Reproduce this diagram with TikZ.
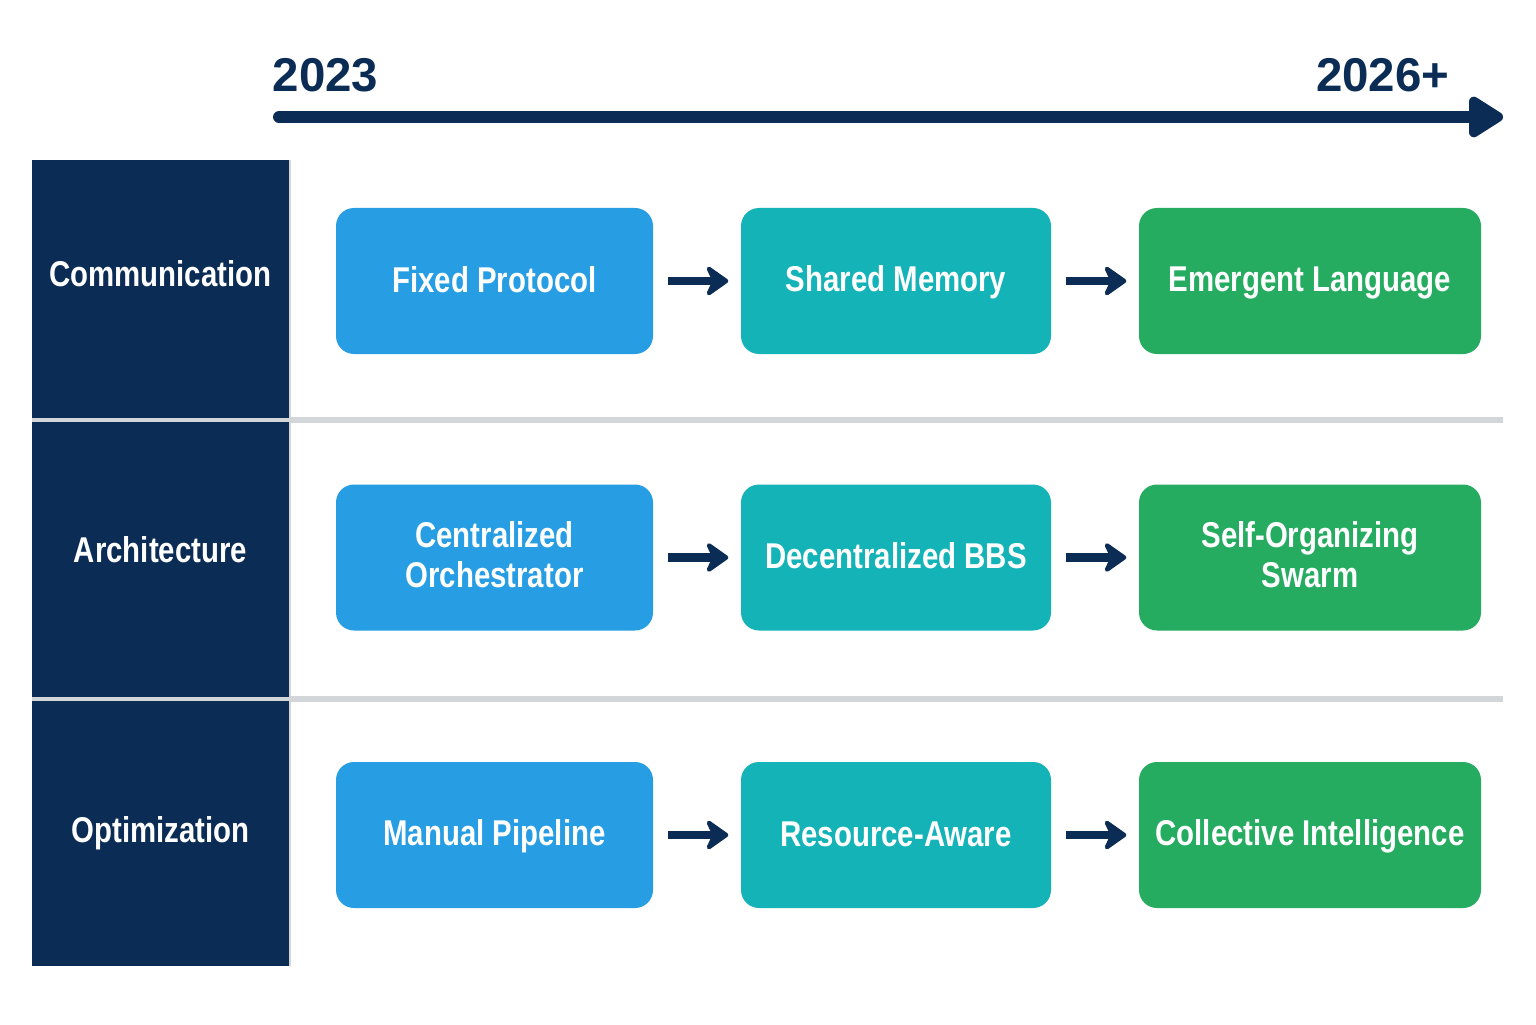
\documentclass[tikz,border=0pt]{standalone}
\usepackage{fontspec}
\setmainfont{Liberation Sans}[FakeStretch=0.82]
\newfontfamily\yearfont{Liberation Sans}
\usetikzlibrary{arrows.meta}
\definecolor{navy}{HTML}{0B2C55}
\definecolor{stageblue}{HTML}{279DE3}
\definecolor{stageteal}{HTML}{14B3B8}
\definecolor{stagegreen}{HTML}{26AC60}
\definecolor{sepgray}{HTML}{D3D6D9}
\newcommand\capstrut{\rule[-1.85pt]{0pt}{10.15pt}}

\begin{document}
\begin{tikzpicture}[every node/.style={font=\bfseries\fontsize{10.2}{11.4}\selectfont, text=white}]

		\fill[white] (0,0) rectangle (15.36,10.24);
		\useasboundingbox (0,0) rectangle (15.36,10.24);

		\tikzset{lane/.style={fill=navy, minimum width=2.57cm, inner sep=0pt},
			lanelabel/.style={inner sep=0pt, execute at begin node=\capstrut},
			stage/.style={rounded corners=0.18cm, minimum height=1.46cm, align=center, inner sep=0pt,
				execute at begin node=\capstrut, execute at end node=\capstrut},
			flow/.style={-{Stealth[length=7.5pt, width=10.5pt, inset=2.5pt, round]}, line width=2.4pt, navy, shorten <=0.14cm, shorten >=0.12cm},
			year/.style={font=\yearfont\bfseries\fontsize{13.5}{15}\selectfont, text=navy, inner sep=0pt}}

		% Timeline
		\node[year, anchor=base west] (y0) at (2.72,9.32) {2023};
		\node[year, anchor=base east] (y1) at (14.50,9.32) {2026+};
		\coordinate (t0) at (2.79,9.07);
		\coordinate (t1) at (15.03,9.07);
		\draw[navy, line width=3.4pt, line cap=round, -{Triangle[length=11pt, width=13pt, round]}] (t0) -- (t1);

		% Row separators
		\draw[sepgray, line width=1.6pt] (0.32,6.04) -- (15.03,6.04);
		\draw[sepgray, line width=1.6pt] (0.32,3.25) -- (15.03,3.25);
		\draw[sepgray, line width=0.8pt] (2.90,0.58) -- (2.90,8.64);

		% Lanes
		\foreach \name/\y/\h/\ty/\txt in {comm/7.35/2.58/7.485/Communication, arch/4.645/2.75/4.73/Architecture, opt/1.905/2.65/1.92/Optimization}{
			\node[lane, minimum height=\h cm] (\name) at (1.605,\y) {};
			\node[lanelabel] (\name-lbl) at (1.605,\ty) {\txt};
		}

		% Stages
		\foreach \name/\x/\w/\c/\y/\txt in {
			fix/4.945/3.17/stageblue/7.43/{Fixed Protocol},
			shm/8.96/3.10/stageteal/7.43/{Shared Memory},
			emg/13.10/3.42/stagegreen/7.43/{Emergent Language},
			cen/4.945/3.17/stageblue/4.665/{Centralized\\Orchestrator},
			dec/8.96/3.10/stageteal/4.665/{Decentralized BBS},
			swm/13.10/3.42/stagegreen/4.665/{Self-Organizing\\Swarm},
			man/4.945/3.17/stageblue/1.89/{Manual Pipeline},
			res/8.96/3.10/stageteal/1.89/{Resource-Aware},
			col/13.10/3.42/stagegreen/1.89/{Collective Intelligence}}{
			\node[stage, fill=\c, minimum width=\w cm] (\name) at (\x,\y) {\txt};
		}

		\foreach \a/\b in {fix/shm, shm/emg, cen/dec, dec/swm, man/res, res/col}{\draw[flow] (\a) -- (\b);}

	\end{tikzpicture}
\end{document}
